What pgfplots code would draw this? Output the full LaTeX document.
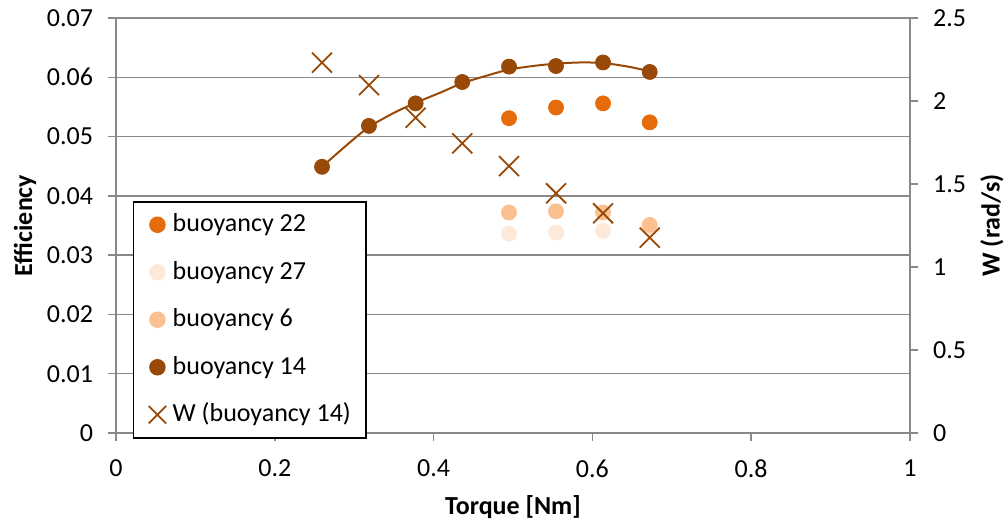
\documentclass[border=0pt]{standalone}
\usepackage{fontspec}
\setmainfont{Carlito}
\usepackage{pgfplots}
\pgfplotsset{compat=1.18}
\definecolor{b22}{HTML}{E46C0A}
\definecolor{b27}{HTML}{FDE9D9}
\definecolor{b6}{HTML}{FAC090}
\definecolor{b14}{HTML}{984807}
\definecolor{gridc}{HTML}{898989}
\begin{document}
\begin{tikzpicture}
\pgfplotsset{
  base/.style={
    scale only axis, width=397pt, height=207.5pt,
    xmin=0, xmax=1,
    /pgf/number format/assume math mode=true,
    tick label style={font=\fontsize{13}{15}\selectfont, black},
    label style={font=\fontsize{13}{15}\selectfont\bfseries, black},
    tick align=outside, major tick length=4pt,
    major tick style={gridc, line width=0.75pt},
    axis line style={gridc, line width=0.75pt},
  },
  dot/.style={only marks, mark=*, mark size=3.75pt, mark options={draw=#1, fill=#1}},
}
\begin{axis}[base,
  ymin=0, ymax=0.07,
  ytick={0,0.01,0.02,0.03,0.04,0.05,0.06,0.07},
  scaled y ticks=false,
  yticklabel style={/pgf/number format/.cd, fixed, precision=2},
  xtick={0,0.2,0.4,0.6,0.8,1},
  xtick pos=bottom, ytick pos=left,
  yticklabel shift=4pt, xticklabel shift=6pt,
  ymajorgrids, grid style={gridc, line width=0.75pt},
  xlabel={Torque [Nm]}, ylabel={Efficiency},
  xlabel style={at={([yshift=-37pt]axis description cs:0.5,0)}, anchor=center},
  ylabel style={at={([xshift=-45.5pt]axis description cs:0,0.5)}, anchor=center, rotate=0},
  legend style={at={(axis description cs:0.0214,0.559)}, anchor=north west,
    draw=black, line width=0.75pt, fill=white,
    font=\fontsize{13}{15}\selectfont,
    inner xsep=7.5pt, inner ysep=5.5pt, row sep=11.75pt,
    nodes={inner sep=0pt, text height=9.5pt, text depth=2.5pt},
    /tikz/every odd column/.append style={column sep=3.3pt}},
  legend cell align=left,
  legend image code/.code={\draw[#1] plot coordinates {(0pt,0pt)};},
]
\coordinate (sw) at (rel axis cs:0,0);
\coordinate (ne) at (rel axis cs:1,1);
\addplot[dot=b22] coordinates {
  (0.4950,0.0531) (0.5542,0.0549) (0.6134,0.0556) (0.6722,0.0524)};
\addlegendentry{buoyancy 22}
\addplot[dot=b27] coordinates {
  (0.4950,0.0336) (0.5542,0.0338) (0.6134,0.0341) (0.6722,0.0346)};
\addlegendentry{buoyancy 27}
\addplot[dot=b6] coordinates {
  (0.4950,0.0372) (0.5542,0.0374) (0.6134,0.0372) (0.6722,0.0351)};
\addlegendentry{buoyancy 6}
\addplot[dot=b14] coordinates {
  (0.2595,0.0449) (0.3186,0.0518) (0.3774,0.0556) (0.4361,0.0592)
  (0.4950,0.0618) (0.5542,0.0619) (0.6134,0.0625) (0.6722,0.0609)};
\addlegendentry{buoyancy 14}
\addplot[b14, line width=1pt, smooth, no marks, forget plot] coordinates {
  (0.2595,0.0449) (0.29,0.0485) (0.3186,0.0516) (0.35,0.0540) (0.3774,0.0557)
  (0.41,0.0575) (0.4361,0.0590) (0.47,0.0604) (0.495,0.0613) (0.525,0.0619)
  (0.5542,0.0623) (0.585,0.0625) (0.6134,0.0624) (0.645,0.0618) (0.6722,0.0610)};
\addlegendimage{only marks, mark=x, mark size=6.15pt, mark options={b14, line width=0.9pt}}
\addlegendentry{W (buoyancy 14)}
\end{axis}
\begin{axis}[base,
  ymin=0, ymax=2.5,
  ytick={0,0.5,1,1.5,2,2.5},
  axis y line*=right, axis x line=none,
  ytick pos=right,
  yticklabel shift=4pt,
  ylabel={W (rad/s)},
  ylabel style={at={([xshift=41pt]axis description cs:1,0.5)}, anchor=center, rotate=0},
]
\addplot[only marks, mark=x, mark size=7.07pt, mark options={b14, line width=0.9pt}] coordinates {
  (0.2595,2.231) (0.3186,2.096) (0.3774,1.899) (0.4361,1.745)
  (0.4950,1.608) (0.5542,1.444) (0.6134,1.3235) (0.6722,1.1765)};
\end{axis}
\pgfresetboundingbox
\path[use as bounding box] ([shift={(-58pt,-45pt)}]sw) rectangle ([shift={(49pt,9pt)}]ne);
\end{tikzpicture}
\end{document}
